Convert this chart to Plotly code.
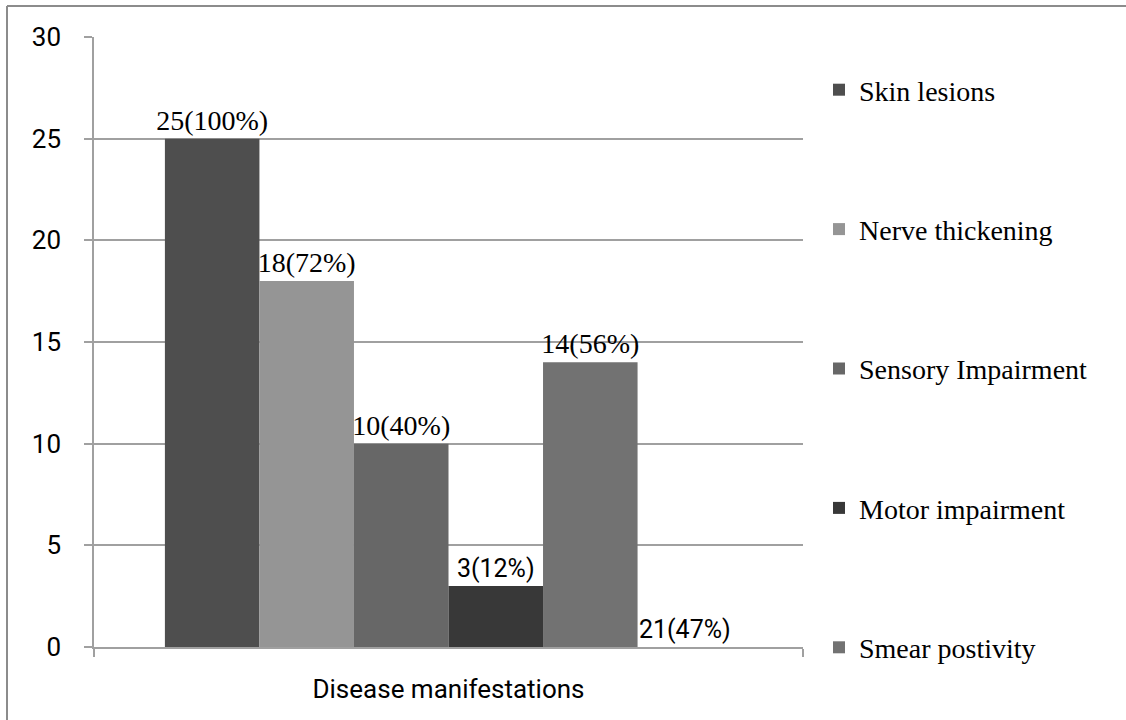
import plotly.graph_objects as go

# Category and series data
category = ["Disease manifestations"]
series_names = ["Skin lesions", "Nerve thickening", "Sensory Impairment",
                "Motor impairment", "Smear postivity", ""]
series_values = [25, 18, 10, 3, 14, 0]
series_labels = ["25(100%)", "18(72%)", "10(40%)", "3(12%)", "14(56%)", "21(47%)"]
y_ticks = [0, 5, 10, 15, 20, 25, 30]

colors = ["#4e4e4e", "#959595", "#676767", "#383838", "#727272", "#8a8a8a"]
label_fonts = ["Liberation Serif", "Liberation Serif", "Liberation Serif",
               "Roboto", "Liberation Serif", "Roboto"]
label_sizes = [28, 28, 28, 25, 28, 25]
in_legend = [True, True, True, True, True, False]

fig = go.Figure()
for i, name in enumerate(series_names):
    fig.add_trace(go.Bar(
        x=category,
        y=[series_values[i]],
        name=name,
        legendgroup=f"g{i}",
        showlegend=in_legend[i],
        marker=dict(color=colors[i], line=dict(width=0)),
        text=[series_labels[i]],
        textposition="outside",
        constraintext="none",
        textfont=dict(family=label_fonts[i], size=label_sizes[i], color="#000000"),
        cliponaxis=False,
    ))

W, H = 1126, 720
ml, mr, mt, mb = 94, 323, 37, 73
pw, ph = W - ml - mr, H - mt - mb

def px_x(p):
    return (p - ml) / pw

def px_y(p):
    return (H - mb - p) / ph

fig.update_layout(
    width=W, height=H,
    margin=dict(l=ml, r=mr, t=mt, b=mb, pad=0),
    paper_bgcolor="white", plot_bgcolor="white",
    barmode="group", bargap=0.2, bargroupgap=0,
    showlegend=True,
    legend=dict(
        x=px_x(819), xanchor="left",
        y=px_y(65), yanchor="top",
        font=dict(family="Liberation Serif", size=28, color="#000000"),
        tracegroupgap=100,
        bgcolor="rgba(0,0,0,0)",
    ),
    xaxis=dict(
        type="category",
        range=[-0.5, 0.5],
        showline=True, linecolor="#a0a0a0", linewidth=1.5,
        ticks="outside", ticklen=8, tickcolor="#a0a0a0", tickwidth=1.5,
        tickson="boundaries",
        showgrid=False,
        tickfont=dict(family="Roboto", size=26, color="#000000"),
        ticklabelstandoff=18,
    ),
    yaxis=dict(
        range=[0, 30],
        tickvals=y_ticks,
        showline=True, linecolor="#a0a0a0", linewidth=1.5,
        ticks="outside", ticklen=8, tickcolor="#a0a0a0", tickwidth=1.5,
        showgrid=True, gridcolor="#a0a0a0", gridwidth=1.5,
        zeroline=False,
        tickfont=dict(family="Roboto", size=26, color="#000000"),
        ticklabelstandoff=18,
    ),
    shapes=[
        # outer chart frame (top and left edges)
        dict(type="line", xref="paper", yref="paper",
             x0=px_x(7), x1=px_x(1130), y0=px_y(6), y1=px_y(6),
             line=dict(color="#8c8c8c", width=2)),
        dict(type="line", xref="paper", yref="paper",
             x0=px_x(7), x1=px_x(7), y0=px_y(6), y1=px_y(725),
             line=dict(color="#8c8c8c", width=2)),
    ],
)

fig.write_html("out.html")
